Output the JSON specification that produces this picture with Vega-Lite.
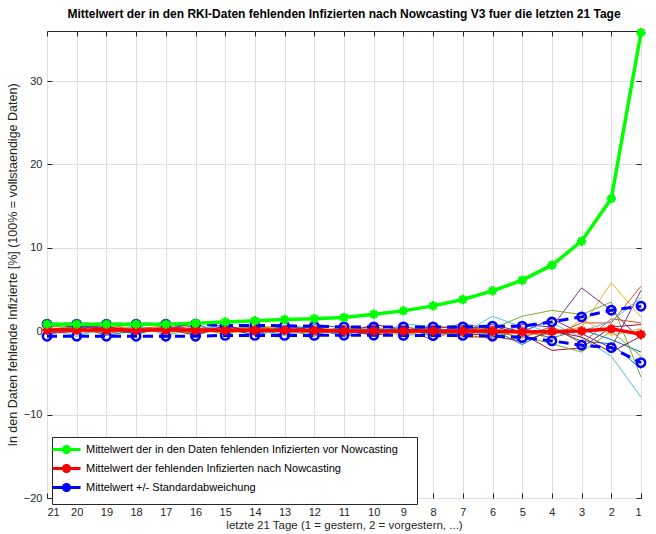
{
  "$schema": "https://vega.github.io/schema/vega-lite/v6.json",
  "width": 594,
  "height": 467,
  "autosize": "none",
  "padding": {"left": 47, "top": 31, "right": 15, "bottom": 36},
  "title": {"text": "Mittelwert der in den RKI-Daten fehlenden Infizierten nach Nowcasting V3 fuer die letzten 21 Tage", "fontSize": 12, "fontWeight": "bold", "font": "Liberation Sans", "color": "black", "offset": 2, "anchor": "middle"},
  "config": {
    "font": "Liberation Sans",
    "view": {"stroke": "#262626", "strokeWidth": 1},
    "axis": {"domainColor": "#262626", "tickColor": "#262626", "labelColor": "#262626", "titleColor": "#262626", "gridColor": "#dfdfdf", "gridOpacity": 1, "labelFontSize": 11, "titleFontSize": 11.5, "titleFontWeight": "normal", "labelFont": "Liberation Sans", "titleFont": "Liberation Sans", "labelOverlap": false},
    "legend": {"orient": "none", "legendX": 5, "legendY": 406, "padding": 6, "strokeColor": "#262626", "fillColor": "white", "labelFontSize": 11, "labelColor": "black", "labelFont": "Liberation Sans", "rowPadding": -2, "symbolType": "M-2.8,0H2.8M0,-0.9V0.9M-0.9,0H0.9M-0.65,-0.65L0.65,0.65M-0.65,0.65L0.65,-0.65", "symbolSize": 100, "symbolStrokeWidth": 3, "symbolOffset": 2, "labelOffset": 13, "labelLimit": 0, "title": null}
  },
  "resolve": {"axis": {"x": "independent", "y": "independent"}},
  "datasets": {
    "thin": [
      {"d":21,"a":-0.4,"b":0.8,"c":0.5,"e":0.1,"f":0.6,"h":0.3,"i":1.0,"j":-0.2,"k":0.4,"l":0.2,"m":-0.1,"n":0.7,"o":0.5,"p":-0.3},
      {"d":20,"a":0.6,"b":0.9,"c":-0.2,"e":0.3,"f":0.4,"h":-0.6,"i":0.4,"j":0.6,"k":0.2,"l":-0.1,"m":0.7,"n":0.3,"o":-0.3,"p":0.0},
      {"d":19,"a":-0.5,"b":0.3,"c":0.2,"e":0.7,"f":-0.1,"h":0.4,"i":0.9,"j":0.2,"k":-0.3,"l":0.6,"m":0.3,"n":-0.2,"o":0.1,"p":0.5},
      {"d":18,"a":0.1,"b":0.5,"c":0.6,"e":-0.4,"f":0.2,"h":0.8,"i":0.0,"j":-0.3,"k":0.3,"l":0.4,"m":-0.2,"n":0.6,"o":0.5,"p":0.1},
      {"d":17,"a":0.4,"b":0.1,"c":-0.3,"e":0.6,"f":0.5,"h":-0.5,"i":0.3,"j":0.5,"k":0.6,"l":-0.1,"m":0.4,"n":0.0,"o":-0.2,"p":0.3},
      {"d":16,"a":-0.3,"b":0.7,"c":0.4,"e":0.2,"f":-0.4,"h":0.3,"i":0.9,"j":0.0,"k":-0.2,"l":0.5,"m":0.1,"n":0.4,"o":0.6,"p":-0.5},
      {"d":15,"a":0.5,"b":-0.2,"c":0.1,"e":0.8,"f":0.3,"h":0.6,"i":-0.4,"j":0.2,"k":0.4,"l":-0.3,"m":0.5,"n":-0.4,"o":0.3,"p":0.7},
      {"d":14,"a":0.2,"b":0.4,"c":0.7,"e":-0.3,"f":0.5,"h":0.0,"i":0.6,"j":-0.4,"k":0.3,"l":0.2,"m":-0.5,"n":0.6,"o":0.1,"p":-0.2},
      {"d":13,"a":-0.4,"b":0.6,"c":0.3,"e":0.5,"f":-0.2,"h":0.4,"i":0.0,"j":0.7,"k":0.2,"l":-0.5,"m":0.3,"n":0.1,"o":-0.5,"p":0.4},
      {"d":12,"a":0.8,"b":0.2,"c":-0.3,"e":0.1,"f":0.4,"h":-0.4,"i":0.5,"j":0.3,"k":-0.6,"l":0.6,"m":0.0,"n":-0.3,"o":0.2,"p":-0.1},
      {"d":11,"a":0.4,"b":-0.5,"c":0.6,"e":0.3,"f":0.1,"h":0.5,"i":-0.3,"j":-0.6,"k":0.7,"l":0.0,"m":-0.2,"n":0.4,"o":-0.4,"p":0.2},
      {"d":10,"a":-0.2,"b":0.5,"c":0.3,"e":-0.4,"f":0.6,"h":-0.6,"i":0.8,"j":0.0,"k":-0.3,"l":0.4,"m":0.2,"n":-0.2,"o":0.6,"p":-0.5},
      {"d":9,"a":0.3,"b":-0.3,"c":-0.2,"e":0.6,"f":-0.4,"h":0.9,"i":0.2,"j":0.4,"k":0.1,"l":-0.6,"m":-0.1,"n":0.5,"o":-0.5,"p":0.0},
      {"d":8,"a":-0.5,"b":0.4,"c":0.8,"e":-0.2,"f":0.2,"h":0.5,"i":0.3,"j":-0.6,"k":-1.0,"l":0.3,"m":0.6,"n":0.1,"o":-0.3,"p":-0.2},
      {"d":7,"a":0.6,"b":-0.4,"c":0.1,"e":0.7,"f":0.9,"h":-0.3,"i":-0.6,"j":0.3,"k":0.5,"l":-0.8,"m":0.2,"n":-0.5,"o":0.4,"p":-0.2},
      {"d":6,"a":0.2,"b":-0.9,"c":0.4,"e":-0.5,"f":0.3,"h":1.8,"i":0.6,"j":-0.4,"k":0.1,"l":-0.7,"m":0.8,"n":-0.2,"o":-0.8,"p":-0.6},
      {"d":5,"a":-1.6,"b":0.3,"c":-0.5,"e":0.8,"f":1.8,"h":0.5,"i":-0.3,"j":0.1,"k":-0.8,"l":0.6,"m":-0.1,"n":-0.6,"o":1.0,"p":-1.2},
      {"d":4,"a":0.3,"b":-0.5,"c":-0.2,"e":0.5,"f":2.5,"h":1.0,"i":-2.3,"j":-0.8,"k":0.6,"l":-1.2,"m":1.5,"n":-1.5,"o":-0.3,"p":0.0},
      {"d":3,"a":-1.2,"b":1.0,"c":0.5,"e":5.2,"f":2.0,"h":-0.8,"i":-2.0,"j":0.2,"k":-1.5,"l":1.5,"m":-0.3,"n":-2.5,"o":0.0,"p":-0.7},
      {"d":2,"a":-1.5,"b":1.0,"c":5.8,"e":2.5,"f":3.5,"h":-3.0,"i":0.5,"j":-1.0,"k":1.5,"l":-0.5,"m":-2.0,"n":0.0,"o":1.2,"p":-2.5},
      {"d":1,"a":-4.5,"b":5.4,"c":1.7,"e":-1.0,"f":-5.5,"h":-7.9,"i":0.8,"j":-2.5,"k":1.0,"l":0.3,"m":4.9,"n":-3.0,"o":4.0,"p":-0.6}
    ],
    "main": [
      {"d":21,"g":0.85,"r":0.15,"u":0.85,"l":-0.6},
      {"d":20,"g":0.85,"r":0.15,"u":0.85,"l":-0.6},
      {"d":19,"g":0.85,"r":0.15,"u":0.85,"l":-0.6},
      {"d":18,"g":0.85,"r":0.15,"u":0.85,"l":-0.6},
      {"d":17,"g":0.85,"r":0.15,"u":0.85,"l":-0.6},
      {"d":16,"g":0.95,"r":0.15,"u":0.85,"l":-0.6},
      {"d":15,"g":1.1,"r":0.12,"u":0.7,"l":-0.5},
      {"d":14,"g":1.25,"r":0.12,"u":0.7,"l":-0.5},
      {"d":13,"g":1.4,"r":0.1,"u":0.65,"l":-0.5},
      {"d":12,"g":1.5,"r":0.08,"u":0.6,"l":-0.5},
      {"d":11,"g":1.64,"r":0.02,"u":0.52,"l":-0.48},
      {"d":10,"g":2.04,"r":0.02,"u":0.52,"l":-0.48},
      {"d":9,"g":2.44,"r":0.02,"u":0.52,"l":-0.5},
      {"d":8,"g":3.04,"r":0.02,"u":0.52,"l":-0.52},
      {"d":7,"g":3.8,"r":0.02,"u":0.52,"l":-0.5},
      {"d":6,"g":4.84,"r":0.0,"u":0.6,"l":-0.6},
      {"d":5,"g":6.12,"r":-0.08,"u":0.6,"l":-0.76},
      {"d":4,"g":7.92,"r":-0.02,"u":1.12,"l":-1.16},
      {"d":3,"g":10.8,"r":0.02,"u":1.72,"l":-1.68},
      {"d":2,"g":15.9,"r":0.28,"u":2.52,"l":-1.96},
      {"d":1,"g":35.8,"r":-0.38,"u":3.0,"l":-3.76}
    ]
  },
  "layer": [
    {
      "data": {"name": "thin"},
      "transform": [{"fold": ["a","b","c","e","f","h","i","j","k","l","m","n","o","p"], "as": ["run","val"]}],
      "mark": {"type": "line", "strokeWidth": 1},
      "encoding": {
        "x": {"field": "d", "type": "quantitative", "scale": {"domain": [1,21], "reverse": true, "nice": false, "zero": false}, "axis": {"orient": "bottom", "values": [1,2,3,4,5,6,7,8,9,10,11,12,13,14,15,16,17,18,19,20,21], "format": "d", "title": "letzte 21 Tage (1 = gestern, 2 = vorgestern, ...)", "grid": true, "tickSize": -5, "labelPadding": 13, "titlePadding": 2, "domain": false}},
        "y": {"field": "val", "type": "quantitative", "scale": {"domain": [-20,36], "nice": false, "zero": false}, "axis": {"orient": "left", "values": [-20,-10,0,10,20,30], "title": "In den Daten fehlende Infizierte [%] (100% = vollstaendige Daten)", "titleFontSize": 12.5, "grid": true, "tickSize": -5, "labelPadding": 10, "titlePadding": 4, "domain": false}},
        "stroke": {"field": "run", "type": "nominal", "scale": {"domain": ["a","b","c","e","f","h","i","j","k","l","m","n","o","p"], "range": ["#0072BD","#D95319","#EDB120","#7E2F8E","#77AC30","#4DBEEE","#A2142F","#0072BD","#D95319","#EDB120","#7E2F8E","#77AC30","#4DBEEE","#A2142F"]}, "legend": null},
        "detail": {"field": "run"}
      }
    },
    {
      "data": {"name": "main"},
      "mark": {"type": "line", "strokeWidth": 3, "strokeDash": [10,6]},
      "encoding": {
        "x": {"field": "d", "type": "quantitative", "axis": {"orient": "top", "values": [1,2,3,4,5,6,7,8,9,10,11,12,13,14,15,16,17,18,19,20,21], "labels": false, "title": null, "grid": false, "tickSize": -5, "domain": false}},
        "y": {"field": "u", "type": "quantitative", "axis": {"orient": "right", "values": [-20,-10,0,10,20,30], "labels": false, "title": null, "grid": false, "tickSize": -5, "domain": false}},
        "color": {"datum": "Mittelwert +/- Standardabweichung", "type": "nominal", "scale": {"domain": ["Mittelwert der in den Daten fehlenden Infizierten vor Nowcasting", "Mittelwert der fehlenden Infizierten nach Nowcasting", "Mittelwert +/- Standardabweichung"], "range": ["#00ff00", "#ff0000", "#0000ff"]}, "legend": {"labelExpr": "datum.label + '\u00a0\u00a0\u00a0\u00a0\u200b'", "labelColor": "black"}}
      }
    },
    {
      "data": {"name": "main"},
      "mark": {"type": "line", "strokeWidth": 3, "strokeDash": [10,6]},
      "encoding": {
        "x": {"field": "d", "type": "quantitative", "axis": null},
        "y": {"field": "l", "type": "quantitative", "axis": null},
        "color": {"datum": "Mittelwert +/- Standardabweichung", "type": "nominal"}
      }
    },
    {
      "data": {"name": "main"},
      "mark": {"type": "point", "shape": "circle", "size": 70, "filled": false, "strokeWidth": 2.5, "opacity": 1},
      "encoding": {
        "x": {"field": "d", "type": "quantitative", "axis": null},
        "y": {"field": "u", "type": "quantitative", "axis": null},
        "color": {"datum": "Mittelwert +/- Standardabweichung", "type": "nominal"}
      }
    },
    {
      "data": {"name": "main"},
      "mark": {"type": "point", "shape": "circle", "size": 70, "filled": false, "strokeWidth": 2.5, "opacity": 1},
      "encoding": {
        "x": {"field": "d", "type": "quantitative", "axis": null},
        "y": {"field": "l", "type": "quantitative", "axis": null},
        "color": {"datum": "Mittelwert +/- Standardabweichung", "type": "nominal"}
      }
    },
    {
      "data": {"name": "main"},
      "mark": {"type": "line", "strokeWidth": 3.5},
      "encoding": {
        "x": {"field": "d", "type": "quantitative", "axis": null},
        "y": {"field": "r", "type": "quantitative", "axis": null},
        "color": {"datum": "Mittelwert der fehlenden Infizierten nach Nowcasting", "type": "nominal"}
      }
    },
    {
      "data": {"name": "main"},
      "mark": {"type": "point", "shape": "M0,-1V1M-1,0H1M-0.7,-0.7L0.7,0.7M-0.7,0.7L0.7,-0.7", "size": 90, "filled": false, "strokeWidth": 2.5, "opacity": 1},
      "encoding": {
        "x": {"field": "d", "type": "quantitative", "axis": null},
        "y": {"field": "r", "type": "quantitative", "axis": null},
        "color": {"datum": "Mittelwert der fehlenden Infizierten nach Nowcasting", "type": "nominal"}
      }
    },
    {
      "data": {"name": "main"},
      "mark": {"type": "line", "strokeWidth": 3.5},
      "encoding": {
        "x": {"field": "d", "type": "quantitative", "axis": null},
        "y": {"field": "g", "type": "quantitative", "axis": null},
        "color": {"datum": "Mittelwert der in den Daten fehlenden Infizierten vor Nowcasting", "type": "nominal"}
      }
    },
    {
      "data": {"name": "main"},
      "mark": {"type": "point", "shape": "M0,-1V1M-1,0H1M-0.7,-0.7L0.7,0.7M-0.7,0.7L0.7,-0.7", "size": 90, "filled": false, "strokeWidth": 2.5, "opacity": 1},
      "encoding": {
        "x": {"field": "d", "type": "quantitative", "axis": null},
        "y": {"field": "g", "type": "quantitative", "axis": null},
        "color": {"datum": "Mittelwert der in den Daten fehlenden Infizierten vor Nowcasting", "type": "nominal"}
      }
    }
  ]
}
